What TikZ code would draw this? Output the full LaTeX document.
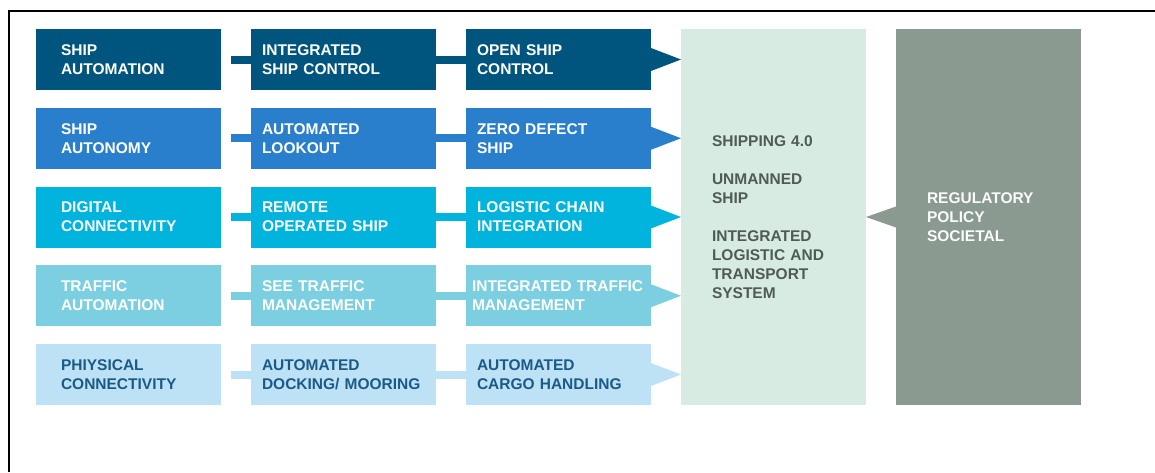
\documentclass[tikz,border=0pt]{standalone}
\usepackage{fontspec}
\setmainfont{Liberation Sans}
\usetikzlibrary{positioning}

\definecolor{rowone}{HTML}{00557F}
\definecolor{rowtwo}{HTML}{2A7FCC}
\definecolor{rowthree}{HTML}{00B4DE}
\definecolor{rowfour}{HTML}{7BCFE0}
\definecolor{rowfive}{HTML}{BDE2F6}
\definecolor{darktext}{HTML}{1B5A86}
\definecolor{shipfill}{HTML}{D8EBE2}
\definecolor{shiptext}{HTML}{4F5B56}
\definecolor{regfill}{HTML}{8A9A90}

\tikzset{
    boxfont/.style={font=\fontsize{15.5}{19}\selectfont\bfseries},
    box/.style={boxfont, minimum width=185pt, minimum height=61pt, inner ysep=0pt,
        inner xsep=11pt, outer sep=0pt, text width=163pt, align=left, text=white},
    firstbox/.style={box, inner xsep=25pt, text width=135pt},
    bigbox/.style={boxfont, anchor=north west, minimum width=185pt, minimum height=376pt,
        inner ysep=0pt, inner xsep=31pt, outer sep=0pt, text width=123pt, align=left},
    link/.style={line width=8pt},
}

\begin{document}
\begin{tikzpicture}[x=1pt, y=-1pt]
    \useasboundingbox (0,0) rectangle (1155,472);
    \draw[line width=2pt] (9,472) -- (9,11) -- (1155,11);

    \node[firstbox, fill=rowone, anchor=north west] (shipauto) at (36,29) {SHIP\\AUTOMATION};
    \node[box, fill=rowone, right=30pt of shipauto] (isc) {INTEGRATED\\SHIP CONTROL};
    \node[box, fill=rowone, right=30pt of isc] (osc) {OPEN SHIP\\CONTROL};

    \node[firstbox, fill=rowtwo, below=17.75pt of shipauto] (shipautonomy) {SHIP\\AUTONOMY};
    \node[box, fill=rowtwo, right=30pt of shipautonomy] (lookout) {AUTOMATED\\LOOKOUT};
    \node[box, fill=rowtwo, right=30pt of lookout] (zerodefect) {ZERO DEFECT\\SHIP};

    \node[firstbox, fill=rowthree, below=17.75pt of shipautonomy] (digital) {DIGITAL\\CONNECTIVITY};
    \node[box, fill=rowthree, right=30pt of digital] (remote) {REMOTE\\OPERATED SHIP};
    \node[box, fill=rowthree, right=30pt of remote] (logchain) {LOGISTIC CHAIN\\INTEGRATION};

    \node[firstbox, fill=rowfour, below=17.75pt of digital] (traffic) {TRAFFIC\\AUTOMATION};
    \node[box, fill=rowfour, right=30pt of traffic] (seetraffic) {SEE TRAFFIC\\MANAGEMENT};
    \node[box, fill=rowfour, right=30pt of seetraffic, inner xsep=6pt, text width=173pt] (inttraffic) {INTEGRATED TRAFFIC\\MANAGEMENT};

    \node[firstbox, fill=rowfive, text=darktext, below=17.75pt of traffic] (physical) {PHIYSICAL\\CONNECTIVITY};
    \node[box, fill=rowfive, text=darktext, right=30pt of physical] (docking) {AUTOMATED\\DOCKING/ MOORING};
    \node[box, fill=rowfive, text=darktext, right=30pt of docking] (cargo) {AUTOMATED\\CARGO HANDLING};

    \node[bigbox, fill=shipfill, text=shiptext] (ship) at (681,29)
        {SHIPPING 4.0\\[19pt]UNMANNED\\SHIP\\[19pt]INTEGRATED\\LOGISTIC AND\\TRANSPORT\\SYSTEM};
    \node[bigbox, fill=regfill, text=white!96!regfill] (reg) at (896,29) {REGULATORY\\POLICY\\SOCIETAL};

    \draw[link, rowone] ([xshift=10pt]shipauto.east) -- (isc.west);
    \draw[link, rowone] (isc.east) -- (osc.west);
    \draw[link, rowtwo] ([xshift=10pt]shipautonomy.east) -- (lookout.west);
    \draw[link, rowtwo] (lookout.east) -- (zerodefect.west);
    \draw[link, rowthree] ([xshift=10pt]digital.east) -- (remote.west);
    \draw[link, rowthree] (remote.east) -- (logchain.west);
    \draw[link, rowfour] ([xshift=10pt]traffic.east) -- (seetraffic.west);
    \draw[link, rowfour] (seetraffic.east) -- (inttraffic.west);
    \draw[link, rowfive] ([xshift=10pt]physical.east) -- (docking.west);
    \draw[link, rowfive] (docking.east) -- (cargo.west);

    \fill[rowone] ([yshift=11.5pt]osc.east) -- (osc.east -| ship.west) -- ([yshift=-11.5pt]osc.east) -- cycle;
    \fill[rowtwo] ([yshift=11.5pt]zerodefect.east) -- (zerodefect.east -| ship.west) -- ([yshift=-11.5pt]zerodefect.east) -- cycle;
    \fill[rowthree] ([yshift=11.5pt]logchain.east) -- (logchain.east -| ship.west) -- ([yshift=-11.5pt]logchain.east) -- cycle;
    \fill[rowfour] ([yshift=11.5pt]inttraffic.east) -- (inttraffic.east -| ship.west) -- ([yshift=-11.5pt]inttraffic.east) -- cycle;
    \fill[rowfive] ([yshift=11.5pt]cargo.east) -- (cargo.east -| ship.west) -- ([yshift=-11.5pt]cargo.east) -- cycle;
    \fill[regfill] ([yshift=10.5pt]reg.west) -- (reg.west -| ship.east) -- ([yshift=-10.5pt]reg.west) -- cycle;
\end{tikzpicture}
\end{document}
